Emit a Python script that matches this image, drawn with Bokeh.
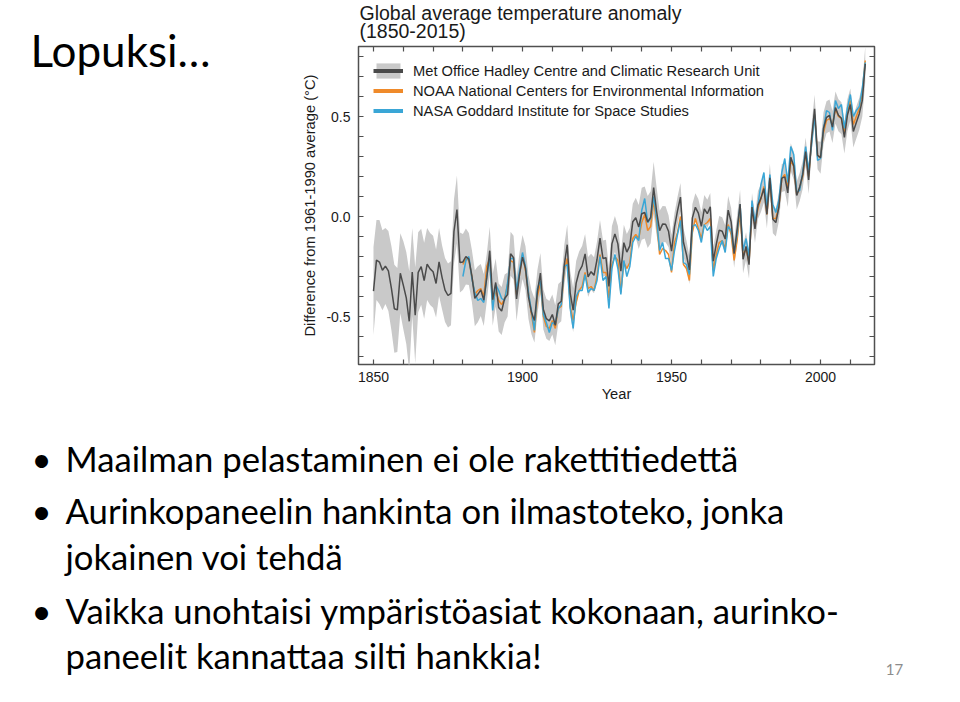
from bokeh.plotting import figure
from bokeh.models import (Range1d, LinearAxis, FixedTicker, PrintfTickFormatter,
                          Legend, LegendItem, ColumnDataSource)
from bokeh.core.properties import value
from bokeh.embed import file_html
from bokeh.resources import INLINE

# ---------------- data (anomaly vs 1961-1990, degC) ----------------
years_had = list(range(1850, 2016))
hadcrut = [
    -0.373, -0.218, -0.228, -0.269, -0.248, -0.272, -0.358, -0.461, -0.467, -0.284,
    -0.343, -0.407, -0.524, -0.278, -0.494, -0.279, -0.251, -0.321, -0.238, -0.262,
    -0.276, -0.335, -0.227, -0.304, -0.368, -0.395, -0.384, -0.075, 0.035, -0.230,
    -0.227, -0.200, -0.213, -0.296, -0.409, -0.389, -0.367, -0.418, -0.307, -0.171,
    -0.416, -0.330, -0.455, -0.473, -0.410, -0.390, -0.186, -0.206, -0.412, -0.289,
    -0.203, -0.259, -0.402, -0.479, -0.520, -0.377, -0.283, -0.465, -0.511, -0.522,
    -0.490, -0.544, -0.437, -0.424, -0.244, -0.141, -0.383, -0.468, -0.333, -0.275,
    -0.247, -0.187, -0.302, -0.276, -0.294, -0.215, -0.108, -0.210, -0.206, -0.350,
    -0.137, -0.087, -0.137, -0.273, -0.131, -0.178, -0.147, -0.026, -0.006, -0.052,
    0.014, 0.020, -0.027, -0.004, 0.144, 0.025, -0.071, -0.038, -0.039, -0.074,
    -0.173, -0.052, 0.028, 0.097, -0.129, -0.190, -0.267, -0.007, 0.046, 0.017,
    -0.049, 0.038, 0.014, 0.048, -0.223, -0.140, -0.068, -0.074, -0.113, 0.032,
    -0.027, -0.186, -0.065, 0.062, -0.214, -0.149, -0.241, 0.047, -0.062, 0.057,
    0.092, 0.140, 0.011, 0.194, -0.014, -0.030, 0.045, 0.192, 0.198, 0.118,
    0.296, 0.254, 0.105, 0.148, 0.208, 0.325, 0.183, 0.390, 0.539, 0.306,
    0.294, 0.441, 0.496, 0.505, 0.447, 0.545, 0.506, 0.491, 0.395, 0.506,
    0.560, 0.425, 0.470, 0.514, 0.579, 0.763,
]
# half-width of the HadCRUT uncertainty band
hadcrut_unc = [
    0.22, 0.20, 0.21, 0.20, 0.19, 0.20, 0.21, 0.22, 0.21, 0.20,
    0.22, 0.23, 0.25, 0.22, 0.24, 0.20, 0.19, 0.19, 0.18, 0.18,
    0.18, 0.17, 0.17, 0.16, 0.16, 0.16, 0.16, 0.16, 0.17, 0.15,
    0.14, 0.14, 0.13, 0.13, 0.14, 0.14, 0.13, 0.13, 0.12, 0.12,
    0.13, 0.12, 0.12, 0.12, 0.12, 0.11, 0.11, 0.11, 0.11, 0.11,
    0.11, 0.11, 0.11, 0.11, 0.11, 0.11, 0.10, 0.10, 0.10, 0.10,
    0.10, 0.10, 0.10, 0.10, 0.10, 0.10, 0.11, 0.11, 0.11, 0.10,
    0.10, 0.10, 0.10, 0.09, 0.09, 0.09, 0.09, 0.09, 0.09, 0.09,
    0.09, 0.09, 0.09, 0.09, 0.09, 0.09, 0.09, 0.09, 0.10, 0.11,
    0.13, 0.13, 0.13, 0.13, 0.13, 0.12, 0.10, 0.09, 0.09, 0.08,
    0.08, 0.07, 0.07, 0.07, 0.07, 0.07, 0.07, 0.07, 0.07, 0.07,
    0.07, 0.07, 0.07, 0.07, 0.07, 0.07, 0.07, 0.07, 0.07, 0.07,
    0.07, 0.07, 0.07, 0.07, 0.07, 0.07, 0.07, 0.07, 0.07, 0.07,
    0.07, 0.07, 0.07, 0.07, 0.07, 0.07, 0.07, 0.07, 0.07, 0.07,
    0.07, 0.07, 0.07, 0.07, 0.07, 0.07, 0.07, 0.07, 0.07, 0.07,
    0.08, 0.08, 0.08, 0.08, 0.08, 0.08, 0.08, 0.08, 0.08, 0.08,
    0.08, 0.08, 0.08, 0.08, 0.08, 0.09,
]
years_us = list(range(1880, 2016))
noaa = [
    -0.24, -0.21, -0.22, -0.30, -0.39, -0.37, -0.36, -0.40, -0.25, -0.21,
    -0.44, -0.37, -0.42, -0.44, -0.41, -0.34, -0.22, -0.23, -0.39, -0.29,
    -0.19, -0.27, -0.38, -0.49, -0.58, -0.40, -0.33, -0.50, -0.55, -0.56,
    -0.52, -0.56, -0.46, -0.45, -0.27, -0.21, -0.45, -0.52, -0.43, -0.37,
    -0.35, -0.28, -0.36, -0.35, -0.37, -0.30, -0.19, -0.28, -0.28, -0.41,
    -0.24, -0.20, -0.22, -0.38, -0.23, -0.26, -0.23, -0.11, -0.09, -0.11,
    -0.03, 0.01, -0.07, -0.05, 0.08, -0.03, -0.19, -0.16, -0.17, -0.19,
    -0.28, -0.13, -0.08, 0.00, -0.24, -0.26, -0.32, -0.08, -0.01, -0.06,
    -0.11, -0.04, -0.03, -0.01, -0.27, -0.19, -0.13, -0.12, -0.16, -0.04,
    -0.09, -0.22, -0.12, 0.02, -0.20, -0.16, -0.23, 0.04, -0.05, 0.04,
    0.09, 0.15, 0.01, 0.19, -0.01, -0.01, 0.05, 0.19, 0.21, 0.14,
    0.28, 0.25, 0.11, 0.14, 0.20, 0.32, 0.20, 0.38, 0.51, 0.30,
    0.30, 0.42, 0.48, 0.49, 0.46, 0.54, 0.50, 0.49, 0.42, 0.52,
    0.58, 0.46, 0.50, 0.54, 0.62, 0.78,
]
nasa = [
    -0.30, -0.22, -0.20, -0.31, -0.38, -0.42, -0.41, -0.43, -0.30, -0.21,
    -0.47, -0.34, -0.37, -0.41, -0.42, -0.33, -0.21, -0.21, -0.37, -0.27,
    -0.18, -0.25, -0.38, -0.47, -0.57, -0.36, -0.32, -0.49, -0.53, -0.58,
    -0.53, -0.54, -0.46, -0.44, -0.25, -0.24, -0.46, -0.56, -0.40, -0.37,
    -0.37, -0.29, -0.38, -0.36, -0.37, -0.32, -0.20, -0.32, -0.30, -0.46,
    -0.26, -0.19, -0.26, -0.39, -0.22, -0.30, -0.25, -0.13, -0.10, -0.12,
    0.03, 0.09, -0.03, -0.01, 0.10, -0.01, -0.17, -0.13, -0.21, -0.21,
    -0.27, -0.17, -0.09, -0.02, -0.23, -0.24, -0.29, -0.05, -0.04, -0.07,
    -0.13, -0.04, -0.07, -0.05, -0.30, -0.21, -0.16, -0.12, -0.18, -0.05,
    -0.07, -0.18, -0.09, 0.06, -0.17, -0.11, -0.20, 0.08, -0.03, 0.06,
    0.16, 0.22, 0.04, 0.21, 0.06, 0.02, 0.08, 0.22, 0.29, 0.17,
    0.35, 0.31, 0.12, 0.13, 0.22, 0.35, 0.23, 0.36, 0.51, 0.28,
    0.29, 0.44, 0.53, 0.52, 0.43, 0.58, 0.54, 0.56, 0.44, 0.54,
    0.61, 0.50, 0.53, 0.55, 0.64, 0.77,
]
legend_labels = [
    "Met Office Hadley Centre and Climatic Research Unit",
    "NOAA National Centers for Environmental Information",
    "NASA Goddard Institute for Space Studies",
]
x_major = [1850, 1900, 1950, 2000]
x_minor = [1860, 1870, 1880, 1890, 1910, 1920, 1930, 1940, 1960, 1970, 1980, 1990, 2010]
y_major = [-0.5, 0.0, 0.5]
y_minor = [-0.7, -0.6, -0.4, -0.3, -0.2, -0.1, 0.1, 0.2, 0.3, 0.4, 0.6, 0.7, 0.8]

slide_title = "Lopuksi…"
chart_title = ["Global average temperature anomaly", "(1850-2015)"]
bullets = [
    ("•", "Maailman pelastaminen ei ole rakettitiedettä"),
    ("•", "Aurinkopaneelin hankinta on ilmastoteko, jonka"),
    ("", "jokainen voi tehdä"),
    ("•", "Vaikka unohtaisi ympäristöasiat kokonaan, aurinko-"),
    ("", "paneelit kannattaa silti hankkia!"),
]
page_number = "17"

# ---------------- figure ----------------
FL, FT, FR, FB = 358, 46, 874, 364   # frame box on the page (pixels)
W, H = 960, 702

p = figure(width=W, height=H, output_backend="svg", toolbar_location=None,
           x_range=Range1d(1844.97, 2018.1), y_range=Range1d(-0.74, 0.85),
           min_border_left=FL, min_border_right=W - FR,
           min_border_top=FT, min_border_bottom=H - FB, title=None)
# page-pixel coordinate system for the slide texts
p.extra_x_ranges = {"px": Range1d(FL, FR)}
p.extra_y_ranges = {"py": Range1d(FB, FT)}
p.background_fill_color = "white"
p.border_fill_color = "white"
p.outline_line_color = "#505050"
p.outline_line_width = 1.5
p.xgrid.grid_line_color = None
p.ygrid.grid_line_color = None

CH_FONT = "Liberation Sans"
AX_COL = "#505050"

def style_axis(ax):
    ax.axis_line_color = None
    ax.major_tick_in = 5
    ax.major_tick_out = 0
    ax.minor_tick_in = 5
    ax.minor_tick_out = 0
    ax.major_tick_line_color = AX_COL
    ax.minor_tick_line_color = AX_COL
    ax.major_tick_line_width = 1.2
    ax.minor_tick_line_width = 1.2
    ax.major_label_text_font = CH_FONT
    ax.major_label_text_font_size = "14px"
    ax.major_label_text_color = "#1a1a1a"
    ax.axis_label_text_font = CH_FONT
    ax.axis_label_text_font_size = "14.7px"
    ax.axis_label_text_font_style = "normal"
    ax.axis_label_text_color = "#1a1a1a"

xa = p.xaxis[0]
xa.ticker = FixedTicker(ticks=x_major, minor_ticks=x_minor)
xa.formatter = PrintfTickFormatter(format="%d")
style_axis(xa)
xa.axis_label = "Year"
xa.major_label_standoff = 7
xa.axis_label_standoff = 1

ya = p.yaxis[0]
ya.ticker = FixedTicker(ticks=y_major, minor_ticks=y_minor)
ya.formatter = PrintfTickFormatter(format="%.1f")
style_axis(ya)
ya.axis_label = "Difference from 1961-1990 average (°C)"
ya.major_label_standoff = 8
ya.axis_label_standoff = 5

top = LinearAxis(ticker=FixedTicker(ticks=x_major, minor_ticks=x_minor),
                 major_label_overrides={v: "" for v in x_major})
style_axis(top)
p.add_layout(top, "above")
right = LinearAxis(ticker=FixedTicker(ticks=y_major, minor_ticks=y_minor),
                   major_label_overrides={v: "" for v in y_major})
style_axis(right)
p.add_layout(right, "right")

# ---------------- glyphs ----------------
src_had = ColumnDataSource(dict(
    year=years_had, val=hadcrut,
    lo=[v - u for v, u in zip(hadcrut, hadcrut_unc)],
    hi=[v + u for v, u in zip(hadcrut, hadcrut_unc)],
))
src_us = ColumnDataSource(dict(year=years_us, noaa=noaa, nasa=nasa))

C_HAD, C_NOAA, C_NASA, C_BAND = "#4a4a4a", "#ef8a2a", "#3aa6d6", "#c9c9c9"

band = p.varea(x="year", y1="lo", y2="hi", source=src_had, fill_color=C_BAND)
p.line(x="year", y="noaa", source=src_us, line_color=C_NOAA, line_width=1.5)
p.line(x="year", y="nasa", source=src_us, line_color=C_NASA, line_width=1.5)
p.line(x="year", y="val", source=src_had, line_color=C_HAD, line_width=1.5)

# legend-only renderers (thicker swatch lines, no visible data)
nan = float("nan")
lg_had = p.line(x=[nan], y=[nan], line_color=C_HAD, line_width=4)
lg_noaa = p.line(x=[nan], y=[nan], line_color=C_NOAA, line_width=4)
lg_nasa = p.line(x=[nan], y=[nan], line_color=C_NASA, line_width=4)

legend = Legend(items=[
    LegendItem(label=legend_labels[0], renderers=[band, lg_had]),
    LegendItem(label=legend_labels[1], renderers=[lg_noaa]),
    LegendItem(label=legend_labels[2], renderers=[lg_nasa]),
], location="top_left", margin=0, padding=15, spacing=1,
   glyph_width=30, glyph_height=19, label_height=19, label_standoff=10,
   label_text_font=CH_FONT, label_text_font_size="14.7px", label_text_color="#1a1a1a",
   background_fill_alpha=0, border_line_alpha=0)
p.add_layout(legend)

# ---------------- page texts (page pixel coords, overlay level) ----------------
def add_text(texts, xs, ys, font, size_px, color="#000000", align="left"):
    # ys are wanted baselines; bokeh's alphabetic baseline sits ~0.4em lower
    ys = [y - 0.4 * size_px for y in ys]
    p.text(x=xs, y=ys, text=texts, x_range_name="px", y_range_name="py",
           level="overlay", text_font=value(font), text_font_size=f"{size_px}px",
           text_color=color, text_align=align, text_baseline="alphabetic")

add_text(chart_title, [359, 359], [20, 38], CH_FONT, 19.5, "#1a1a1a")

SL_FONT = "Lato"
add_text([slide_title], [30], [67], SL_FONT, 44)
baselines = [472, 524, 570, 624, 669]
bul_y = [yb for (b, t), yb in zip(bullets, baselines) if b]
add_text(["•"] * len(bul_y), [31] * len(bul_y), bul_y, SL_FONT, 34.7)
add_text([t for b, t in bullets], [65] * len(bullets), baselines, SL_FONT, 34.7)
add_text([page_number], [894], [675], SL_FONT, 15, "#8c8c8c", "center")

open("out.html", "w").write(file_html(p, INLINE))
